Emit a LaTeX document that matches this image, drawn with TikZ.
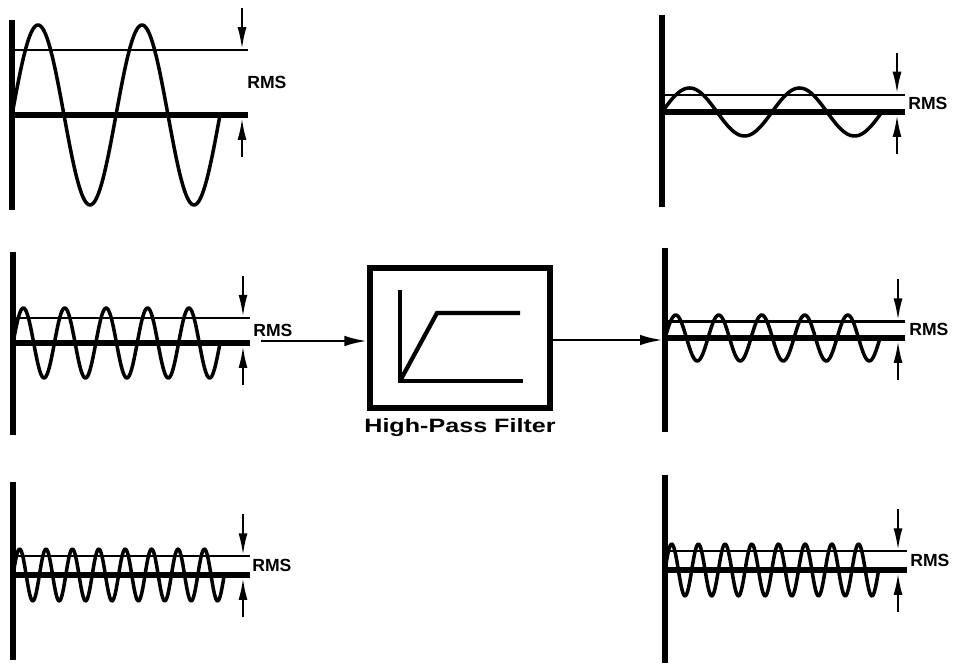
\documentclass[tikz,border=0pt]{standalone}
\usepackage{fontspec}
\setmainfont{Liberation Sans}
\usetikzlibrary{positioning,arrows.meta}

\begin{document}
\begin{tikzpicture}[
    x=0.02cm, y=-0.02cm,
    axisline/.style={line width=3.3pt},
    zeroline/.style={line width=3pt},
    rmsline/.style={line width=1.3pt},
    wave/.style={line width=2pt, line join=round},
    dimarrow/.style={-{Latex[length=4.4mm,width=1.8mm]}, line width=1.3pt},
    sigarrow/.style={-{Latex[length=4.6mm,width=2.1mm]}, line width=1.6pt},
    rmslabel/.style={font=\fontsize{10}{12}\selectfont\bfseries, inner sep=0pt, anchor=west},
    filterbox/.style={rectangle, draw, line width=3pt, minimum width=3.6cm,
        minimum height=2.8cm, inner sep=0pt},
    filterlabel/.style={font=\fontsize{11}{13}\selectfont\bfseries, inner sep=0pt}
]
\useasboundingbox (0,0) rectangle (959,671);

% signals before and after the filter
\foreach \p/\xo/\ytop/\ybot/\yc/\amp/\per/\k/\xe/\xa/\xl in {
    1/12/20/210/115/90/104/2/248/242/247,
    2/13/252/435/343/35/41.4/5/250/243/253,
    3/13/482/660/575/26/26.4/8/250/243/252,
    4/662/15/207/112/24/110/2/905/897/908,
    5/665/248/432/338/23/43/5/905/898/909,
    6/665/475/663/570/26/26.7/8/907/898/910}
{
    \draw[wave] plot[domain=0:\k*\per, samples=200] ({\xo+\x},{\yc-\amp*sin(360/\per*\x)});
    \draw[axisline] (\xo,\ytop) -- (\xo,\ybot);
    \draw[zeroline] (\xo,\yc) -- (\xe,\yc);
    \draw[rmsline] (\xo,{\yc-0.72*\amp}) -- (\xe,{\yc-0.72*\amp});
    \draw[dimarrow] (\xa,{\yc-0.72*\amp-42}) -- (\xa,{\yc-0.72*\amp-1});
    \draw[dimarrow] (\xa,\yc+42) -- (\xa,\yc+3);
    \node[rmslabel] (rms\p) at (\xl,{\yc-0.36*\amp}) {RMS};
}

% the filter
\node[filterbox] (hpf) at (460,338) {};
\node[filterlabel, below=0.16cm of hpf] (hpflabel) {\scalebox{1.3}[1]{High-Pass Filter}};
\draw[line width=2.4pt] (400,290) -- (400,381) -- (523,381);
\draw[line width=2.4pt] (400,381) -- (437,313) -- (520,313);

\coordinate (inL) at (261,341);
\coordinate (outR) at (663,340);
\draw[sigarrow] (inL) -- (inL -| hpf.west);
\draw[sigarrow] (outR -| hpf.east) -- (outR);
\end{tikzpicture}
\end{document}
